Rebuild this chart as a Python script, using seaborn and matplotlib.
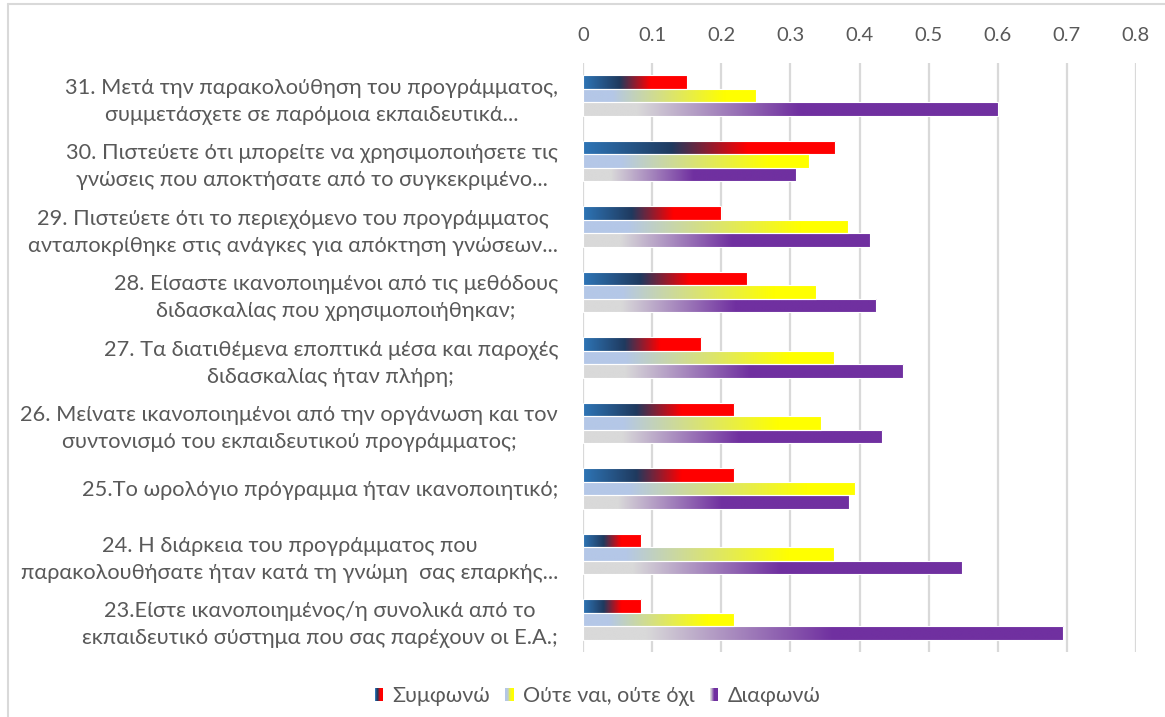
import numpy as np
import pandas as pd
import matplotlib
matplotlib.use("Agg")
import matplotlib.pyplot as plt
import seaborn as sns
from matplotlib.colors import LinearSegmentedColormap
from matplotlib.legend_handler import HandlerBase
from matplotlib.patches import Rectangle, Patch
from matplotlib.lines import Line2D

questions = [
    "31. Μετά την παρακολούθηση του προγράμματος,\nσυμμετάσχετε σε παρόμοια εκπαιδευτικά...",
    "30. Πιστεύετε ότι μπορείτε να χρησιμοποιήσετε τις\nγνώσεις που αποκτήσατε από το συγκεκριμένο...",
    "29. Πιστεύετε ότι το περιεχόμενο του προγράμματος\nανταποκρίθηκε στις ανάγκες για απόκτηση γνώσεων...",
    "28. Είσαστε ικανοποιημένοι από τις μεθόδους\nδιδασκαλίας που χρησιμοποιήθηκαν;",
    "27. Τα διατιθέμενα εποπτικά μέσα και παροχές\nδιδασκαλίας ήταν πλήρη;",
    "26. Μείνατε ικανοποιημένοι από την οργάνωση και τον\nσυντονισμό του εκπαιδευτικού προγράμματος;",
    "25.Το ωρολόγιο πρόγραμμα ήταν ικανοποιητικό;",
    "24. Η διάρκεια του προγράμματος που\nπαρακολουθήσατε ήταν κατά τη γνώμη  σας επαρκής...",
    "23.Είστε ικανοποιημένος/η συνολικά από το\nεκπαιδευτικό σύστημα που σας παρέχουν οι Ε.Α.;",
]
series_names = ["Συμφωνώ", "Ούτε ναι, ούτε όχι", "Διαφωνώ"]
agree = [0.150, 0.365, 0.200, 0.237, 0.171, 0.219, 0.219, 0.084, 0.084]
neutral = [0.250, 0.327, 0.383, 0.337, 0.363, 0.344, 0.394, 0.363, 0.219]
disagree = [0.600, 0.308, 0.415, 0.424, 0.463, 0.433, 0.385, 0.548, 0.695]
xticks = [0, 0.1, 0.2, 0.3, 0.4, 0.5, 0.6, 0.7, 0.8]
xtick_labels = ["0", "0.1", "0.2", "0.3", "0.4", "0.5", "0.6", "0.7", "0.8"]

df = pd.DataFrame({
    "question": questions * 3,
    "answer": [s for s in series_names for _ in questions],
    "share": agree + neutral + disagree,
})

# horizontal gradient fills, one per answer
gradients = {
    "Συμφωνώ": LinearSegmentedColormap.from_list(
        "agree", [(0, "#2E75B6"), (0.35, "#1F3A5F"), (0.65, "#FF0000"), (1, "#FF0000")]),
    "Ούτε ναι, ούτε όχι": LinearSegmentedColormap.from_list(
        "neutral", [(0, "#B4C7E7"), (0.17, "#B4C7E7"), (0.82, "#FFFF00"), (1, "#FFFF00")]),
    "Διαφωνώ": LinearSegmentedColormap.from_list(
        "disagree", [(0, "#D9D9D9"), (0.13, "#D9D9D9"), (0.52, "#7030A0"), (1, "#7030A0")]),
}

sns.set_theme(style="white")
plt.rcParams["font.family"] = ["Lato", "DejaVu Sans"]

fig = plt.figure(figsize=(11.65, 7.17), dpi=100)
ax = fig.add_axes([583 / 1165, 1 - 652 / 717, (1136 - 583) / 1165, (652 - 63) / 717])

sns.barplot(data=df, y="question", x="share", hue="answer", order=questions,
            hue_order=series_names, orient="h", width=0.62, legend=False,
            palette=["#FF0000", "#FFFF00", "#7030A0"], ax=ax)

ramp = np.linspace(0, 1, 256).reshape(1, -1)
for container, name in zip(ax.containers, series_names):
    for bar in container:
        x0, y0 = bar.get_x(), bar.get_y()
        w, h = bar.get_width(), bar.get_height()
        im = ax.imshow(ramp, cmap=gradients[name], aspect="auto",
                       extent=[x0, x0 + w, y0 + h, y0], interpolation="bilinear",
                       zorder=2)
        im.set_clip_path(bar)
        bar.set_facecolor("none")
        bar.set_edgecolor("white")
        bar.set_linewidth(0.8)
        bar.set_zorder(3)

ax.set_xlim(0, 0.8)
ax.set_ylim(len(questions) - 0.5, -0.5)
ax.xaxis.tick_top()
ax.set_xticks(xticks)
ax.set_xticklabels(xtick_labels)
ax.set_xlabel("")
ax.set_ylabel("")
ax.tick_params(axis="x", length=0, pad=14, labelsize=14.5, labelcolor="#595959")
ax.tick_params(axis="y", length=0, pad=18, labelsize=15.7, labelcolor="#595959")
for t in ax.get_yticklabels():
    t.set_multialignment("center")
    t.set_linespacing(1.45)
ax.grid(axis="x", color="#D9D9D9", linewidth=1.6)
ax.set_axisbelow(True)
for s in ax.spines.values():
    s.set_visible(False)


class GradientSquare(HandlerBase):
    def __init__(self, cmap):
        super().__init__()
        self.cmap = cmap

    def create_artists(self, legend, orig_handle, xdescent, ydescent,
                       width, height, fontsize, trans):
        n = 10
        step = width / n
        return [Rectangle((-xdescent + i * step, -ydescent), step * 1.05, height,
                          facecolor=self.cmap(i / (n - 1)), linewidth=0,
                          transform=trans) for i in range(n)]


handles = [Patch(label=n) for n in series_names]
fig.legend(handles=handles, labels=series_names, loc="center",
           bbox_to_anchor=(0.513, 0.029), ncol=3, frameon=False,
           fontsize=15.5, labelcolor="#595959", handlelength=0.38,
           handleheight=0.5, handletextpad=0.45, columnspacing=0.7,
           handler_map={h: GradientSquare(gradients[h.get_label()]) for h in handles})

# chart frame
fig.add_artist(Line2D([8 / 1165, 8 / 1165], [0, 1 - 4 / 717], transform=fig.transFigure,
                      color="#D9D9D9", linewidth=1.5))
fig.add_artist(Line2D([8 / 1165, 1], [1 - 4 / 717, 1 - 4 / 717], transform=fig.transFigure,
                      color="#D9D9D9", linewidth=1.5))

fig.savefig("out.png", dpi=100)
